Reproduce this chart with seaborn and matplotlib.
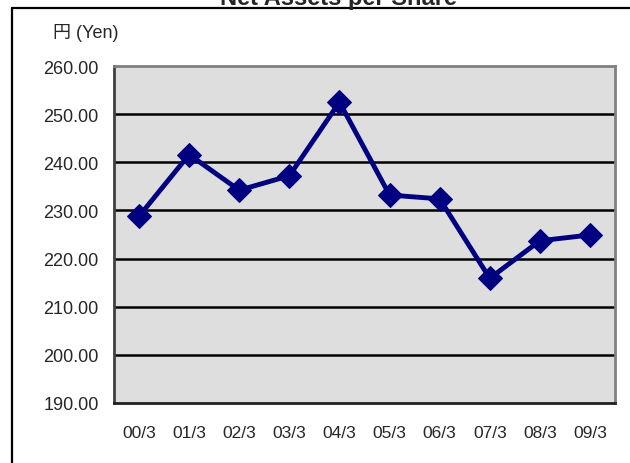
import matplotlib
matplotlib.use('Agg')
import matplotlib.pyplot as plt
from matplotlib.lines import Line2D
import seaborn as sns
import pandas as pd

periods = ['00/3', '01/3', '02/3', '03/3', '04/3', '05/3', '06/3', '07/3', '08/3', '09/3']
net_assets = [228.8, 241.6, 234.2, 237.2, 252.5, 233.2, 232.4, 215.9, 223.7, 224.9]
yticks = [190, 200, 210, 220, 230, 240, 250, 260]

df = pd.DataFrame({'period': periods, 'value': net_assets})

sns.set_style('white')
plt.rcParams['font.family'] = ['Liberation Sans', 'Noto Sans CJK JP', 'DejaVu Sans']

fig = plt.figure(figsize=(6.3, 4.64), dpi=100)
ax = fig.add_axes([114 / 630, 1 - 404 / 464, (615 - 114) / 630, (404 - 67) / 464])
ax.set_facecolor('#dedede')

for v in yticks[1:-1]:
    ax.axhline(v, color='black', lw=1.8, zorder=1)

sns.lineplot(data=df, x='period', y='value', ax=ax, color='#000080', lw=3.5,
             marker='D', markersize=12, markeredgecolor='#000080', zorder=3)

ax.set_xlim(-0.5, len(periods) - 0.5)
ax.set_ylim(190, 260)
ax.set_yticks(yticks)
ax.set_yticklabels([f'{v:.2f}' for v in yticks], fontsize=13)
ax.set_xticks(range(len(periods)))
ax.set_xticklabels(periods, fontsize=12.5)
ax.set_xticks([i - 0.5 for i in range(len(periods) + 1)], minor=True)
ax.tick_params(axis='x', which='major', length=0, pad=16)
ax.tick_params(axis='x', which='minor', direction='in', length=4.5, width=1, color='#333333')
ax.tick_params(axis='y', length=0, pad=11)
ax.set_xlabel('')
ax.set_ylabel('')

for side in ['top', 'right']:
    ax.spines[side].set_color('#808080')
    ax.spines[side].set_linewidth(2)
ax.spines['left'].set_color('#404040')
ax.spines['left'].set_linewidth(2)
ax.spines['bottom'].set_color('#202020')
ax.spines['bottom'].set_linewidth(2)

# outer frame, cut off on the right and bottom
fig.add_artist(Line2D([12 / 630, 1.02], [1 - 9 / 464, 1 - 9 / 464], transform=fig.transFigure, color='black', lw=1.6))
fig.add_artist(Line2D([12 / 630, 12 / 630], [1 - 9 / 464, -0.02], transform=fig.transFigure, color='black', lw=1.6))

fig.text(338 / 630, 1 - 5 / 464, 'Net Assets per Share', ha='center', va='baseline',
         fontsize=17, fontweight='bold')
fig.text(53 / 630, 1 - 33 / 464, '円 (Yen)', ha='left', va='center', fontsize=13)

fig.savefig('out.png', dpi=100)
